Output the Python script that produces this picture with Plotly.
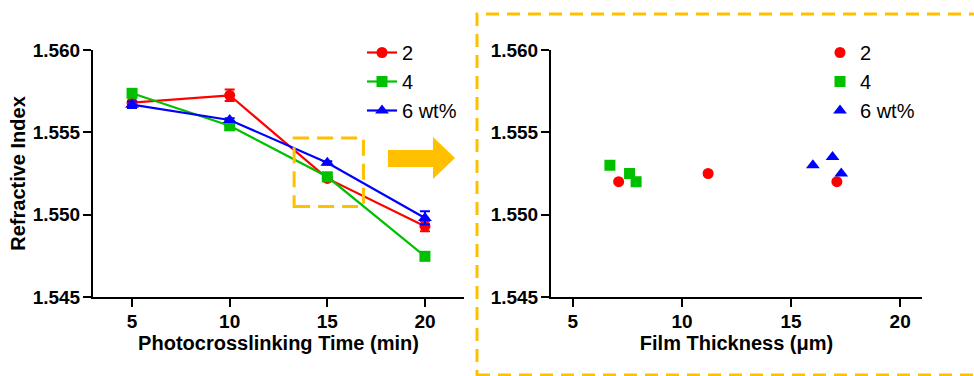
import plotly.graph_objects as go

W, H = 974, 376

# ---- data: left panel (refractive index vs photocrosslinking time) ----
time_min = [5, 10, 15, 20]
ri_2 = [1.5568, 1.55725, 1.5522, 1.5493]
ri_2_err = [0.0001, 0.00035, 0.0001, 0.0003]
ri_4 = [1.55737, 1.5554, 1.5523, 1.54747]
ri_4_err = [0.0, 0.0, 0.0, 0.0]
ri_6 = [1.55668, 1.55575, 1.55315, 1.5498]
ri_6_err = [0.0002, 0.0001, 0.0001, 0.0004]

# ---- data: right panel (refractive index vs film thickness) ----
thick_2 = [7.1, 11.2, 17.1]
rin_2 = [1.5520, 1.5525, 1.5520]
thick_4 = [6.7, 7.6, 7.9]
rin_4 = [1.5530, 1.5525, 1.5520]
thick_6 = [16.0, 16.9, 17.3]
rin_6 = [1.5530, 1.5535, 1.5525]

labels = ["2", "4", "6 wt%"]
colors = ["#FF0000", "#00C000", "#0000FF"]
symbols = ["circle", "square", "triangle-up"]
msizes = [11, 11, 12]

y_ticks = [1.545, 1.550, 1.555, 1.560]
x_ticks = [5, 10, 15, 20]

FONT = "Liberation Sans, Arial, sans-serif"
ORANGE = "#FFC000"

fig = go.Figure()

left_sets = [(ri_2, ri_2_err), (ri_4, ri_4_err), (ri_6, ri_6_err)]
for (vals, errs), lab, col, sym, ms in zip(left_sets, labels, colors, symbols, msizes):
    fig.add_trace(go.Scatter(
        x=time_min, y=vals, mode="lines+markers", name=lab,
        line=dict(color=col, width=2.2),
        marker=dict(symbol=sym, size=ms, color=col),
        error_y=dict(type="data", array=errs, visible=True, color=col, thickness=2, width=5),
        xaxis="x", yaxis="y", legend="legend",
    ))

right_sets = [(thick_2, rin_2), (thick_4, rin_4), (thick_6, rin_6)]
for (xs, ys), lab, col, sym, ms in zip(right_sets, labels, colors, symbols, msizes):
    fig.add_trace(go.Scatter(
        x=xs, y=ys, mode="markers", name=lab,
        marker=dict(symbol=sym, size=ms, color=col),
        xaxis="x2", yaxis="y2", legend="legend2",
    ))

def px_x(p):
    return p / W

def px_y(p):
    return 1 - p / H

tickfont = dict(family=FONT, size=19, color="black", weight="bold")
titlefont = dict(family=FONT, size=20, color="black", weight="bold")
ydom = [px_y(297), px_y(50)]

common_x = dict(showline=True, linecolor="black", linewidth=2, ticks="outside",
                ticklen=8, tickwidth=2, tickcolor="black", showgrid=False,
                zeroline=False, tickvals=x_ticks, tickfont=tickfont, automargin=False,
                ticklabelstandoff=-2)
common_y = dict(showline=True, linecolor="black", linewidth=2, ticks="outside",
                ticklen=8, tickwidth=2, tickcolor="black", showgrid=False,
                zeroline=False, tickvals=y_ticks, tickformat=".3f",
                range=[1.545, 1.560], tickfont=tickfont, automargin=False,
                ticklabelstandoff=-1)

fig.update_layout(
    width=W, height=H, autosize=False,
    margin=dict(l=0, r=0, t=0, b=0, pad=0),
    paper_bgcolor="white", plot_bgcolor="white",
    font=dict(family=FONT, color="black"),
    xaxis=dict(common_x, domain=[px_x(93), px_x(464)], range=[3, 22], anchor="y",
               title=dict(text="Photocrosslinking Time (min)", font=titlefont, standoff=2)),
    yaxis=dict(common_y, domain=ydom, anchor="x",
               title=dict(text="Refractive Index", font=titlefont, standoff=2)),
    xaxis2=dict(common_x, domain=[px_x(551), px_x(922)], range=[4, 21], anchor="y2",
                title=dict(text="Film Thickness (μm)", font=titlefont, standoff=2)),
    yaxis2=dict(common_y, domain=ydom, anchor="x2"),
    legend=dict(x=px_x(362), y=px_y(33), xanchor="left", yanchor="top",
                bgcolor="rgba(0,0,0,0)", font=dict(family=FONT, size=20, color="black")),
    legend2=dict(x=px_x(820), y=px_y(33), xanchor="left", yanchor="top",
                 bgcolor="rgba(0,0,0,0)", font=dict(family=FONT, size=20, color="black")),
    showlegend=True,
)

# decorative dashed box around right panel
fig.add_shape(type="rect", xref="paper", yref="paper",
              x0=px_x(477), x1=px_x(990), y0=px_y(375), y1=px_y(14),
              line=dict(color=ORANGE, width=3, dash="13px,8px"), layer="below")

# small dashed zoom box on left panel (data coordinates)
fig.add_shape(type="rect", xref="x", yref="y",
              x0=13.3, x1=16.85, y0=1.5505, y1=1.55465,
              line=dict(color=ORANGE, width=3, dash="16px,8px"))

# arrow
pts = [(388, 150), (433, 150), (433, 137), (455, 158), (433, 179), (433, 167), (388, 167)]
path = "M " + " L ".join(f"{px_x(a):.5f},{px_y(b):.5f}" for a, b in pts) + " Z"
fig.add_shape(type="path", xref="paper", yref="paper", path=path,
              fillcolor=ORANGE, line=dict(color=ORANGE, width=0))

fig.write_html("out.html")
